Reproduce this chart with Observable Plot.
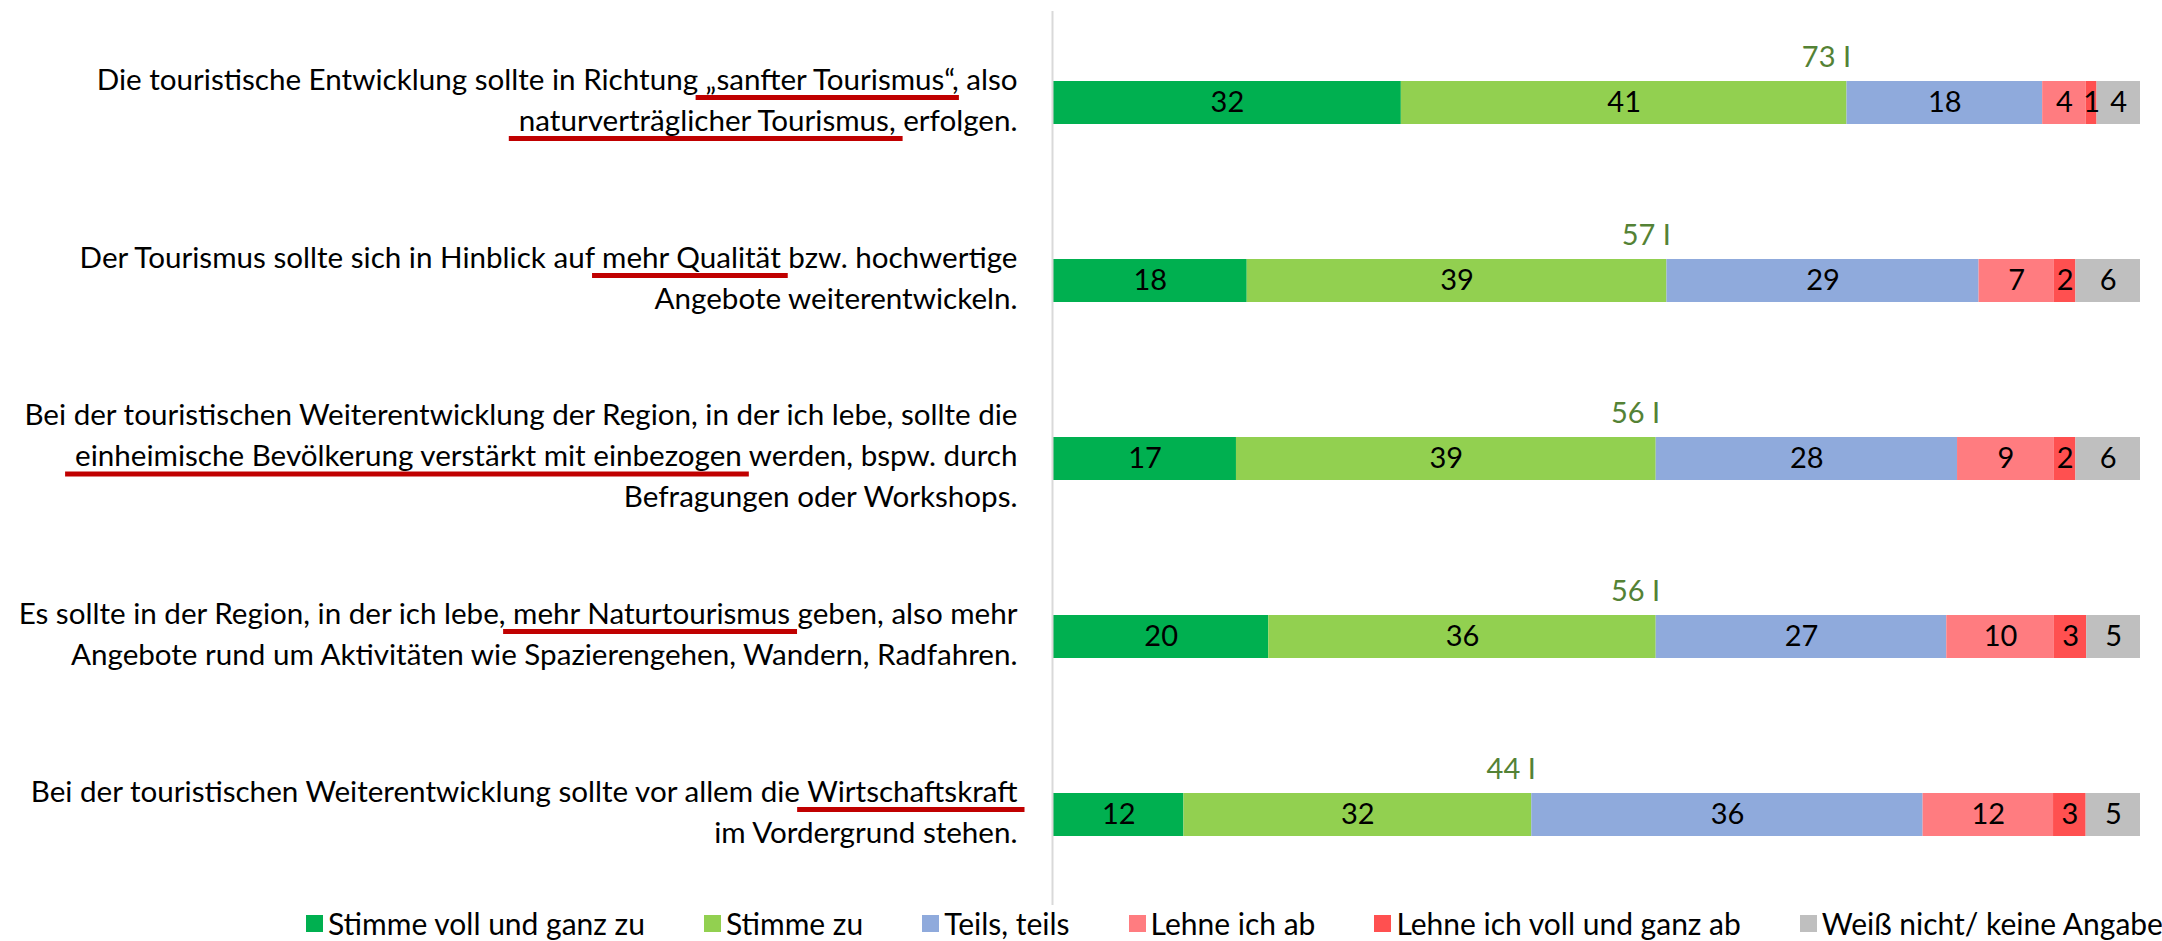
<!DOCTYPE html>
<html>
<head>
<meta charset="utf-8">
<script src="https://cdn.jsdelivr.net/npm/d3@7"></script>
<script src="https://cdn.jsdelivr.net/npm/@observablehq/plot@0.6"></script>
<style>
  body { margin: 0; background: #fff; font-family: Lato, sans-serif; }
  #chart svg { display: block; }
  #legend { padding-left: 306px; height: 36px; }
  #legend .lg-swatches-wrap { min-height: 36px !important; height: 36px; line-height: 36px; margin: 0 !important; flex-wrap: nowrap !important; white-space: nowrap; }
  #legend .lg-swatch { margin-right: 59px !important; }
  #legend .lg-swatch > svg { margin-right: 5px !important; }
</style>
</head>
<body>
<div id="chart"></div>
<div id="legend"></div>
<script>
// ---- data ----
const statements = [
  "Die touristische Entwicklung sollte in Richtung „sanfter Tourismus“, also\nnaturverträglicher Tourismus, erfolgen.",
  "Der Tourismus sollte sich in Hinblick auf mehr Qualität bzw. hochwertige\nAngebote weiterentwickeln.",
  "Bei der touristischen Weiterentwicklung der Region, in der ich lebe, sollte die\neinheimische Bevölkerung verstärkt mit einbezogen werden, bspw. durch\nBefragungen oder Workshops.",
  "Es sollte in der Region, in der ich lebe, mehr Naturtourismus geben, also mehr\nAngebote rund um Aktivitäten wie Spazierengehen, Wandern, Radfahren.",
  "Bei der touristischen Weiterentwicklung sollte vor allem die Wirtschaftskraft\nim Vordergrund stehen."
];
const responses = ["Stimme voll und ganz zu", "Stimme zu", "Teils, teils", "Lehne ich ab", "Lehne ich voll und ganz ab", "Weiß nicht/ keine Angabe"];
const colors = ["#00B050", "#92D050", "#8FAADC", "#FF7C80", "#FF5050", "#BFBFBF"];

const stimmeVoll = [32, 18, 17, 20, 12];
const stimmeZu   = [41, 39, 39, 36, 32];
const teilsTeils = [18, 29, 28, 27, 36];
const lehneAb    = [4, 7, 9, 10, 12];
const lehneVoll  = [1, 2, 2, 3, 3];
const weissNicht = [4, 6, 6, 5, 5];
const agreeTotals = [73, 57, 56, 56, 44];

const underlinePhrases = [
  ["„sanfter Tourismus“", "naturverträglicher Tourismus,"],
  ["mehr Qualität"],
  ["einheimische Bevölkerung verstärkt mit einbezogen"],
  ["mehr Naturtourismus"],
  ["Wirtschaftskraft"]
];

// ---- build tables ----
const series = [stimmeVoll, stimmeZu, teilsTeils, lehneAb, lehneVoll, weissNicht];
const data = [];
statements.forEach((s, i) => series.forEach((vals, j) => data.push({statement: s, response: responses[j], value: vals[i]})));
const rowSum = i => series.reduce((a, v) => a + v[i], 0);
const totals = statements.map((s, i) => ({
  statement: s,
  label: `${agreeTotals[i]} I`,
  pos: (stimmeVoll[i] + stimmeZu[i]) / rowSum(i)
}));

const FONT = "Lato, sans-serif";
const LABEL_SIZE = 29.6;
const plot = Plot.plot({
  width: 2162,
  height: 905,
  marginLeft: 1053,
  marginRight: 22,
  marginTop: 11,
  marginBottom: 0,
  style: {fontFamily: FONT, fontSize: "28px", background: "#fff", overflow: "visible", color: "#000"},
  x: {domain: [0, 1], axis: null},
  y: {domain: statements, axis: null, paddingInner: 0.76, paddingOuter: 0.38},
  color: {domain: responses, range: colors},
  marks: [
    Plot.text(statements, {y: d => d, text: d => d, frameAnchor: "left", textAnchor: "end", dx: -36, dy: -6, lineHeight: 1.385, fontSize: LABEL_SIZE, fill: "#000"}),
    Plot.barX(data, {x: "value", y: "statement", fill: "response", offset: "normalize"}),
    Plot.text(data, Plot.stackX({x: "value", y: "statement", text: "value", offset: "normalize", fontSize: 29, fill: "#000"})),
    Plot.text(totals, {x: "pos", y: "statement", text: "label", textAnchor: "end", dx: 4, dy: -45, fill: "#548235", fontSize: 29}),
    Plot.ruleX([0], {stroke: "#d9d9d9", strokeWidth: 2, dx: -1})
  ]
});
document.getElementById("chart").appendChild(plot);

// ---- underlines under highlighted phrases ----
const svgns = "http://www.w3.org/2000/svg";
const labelGroup = plot.querySelectorAll('g[aria-label="text"]')[0];
labelGroup.querySelectorAll("text").forEach((t, i) => {
  const tr = t.getAttribute("transform");
  const parts = t.querySelectorAll("tspan");
  (underlinePhrases[i] || []).forEach(phrase => {
    parts.forEach(ts => {
      const idx = ts.textContent.indexOf(phrase);
      if (idx < 0) return;
      const a = ts.getStartPositionOfChar(idx);
      const b = ts.getEndPositionOfChar(idx + phrase.length - 1);
      const line = document.createElementNS(svgns, "line");
      line.setAttribute("x1", a.x - 10);
      line.setAttribute("x2", b.x + 7);
      line.setAttribute("y1", a.y + 8);
      line.setAttribute("y2", a.y + 8);
      line.setAttribute("stroke", "#C00000");
      line.setAttribute("stroke-width", 5);
      if (tr) line.setAttribute("transform", tr);
      labelGroup.appendChild(line);
    });
  });
});

// ---- legend ----
const legend = Plot.legend({
  color: {domain: responses, range: colors, legend: "swatches"},
  legend: "swatches",
  swatchSize: 17,
  className: "lg",
  style: {fontFamily: FONT, fontSize: "30px", color: "#000"}
});
document.getElementById("legend").appendChild(legend);
</script>
</body>
</html>
